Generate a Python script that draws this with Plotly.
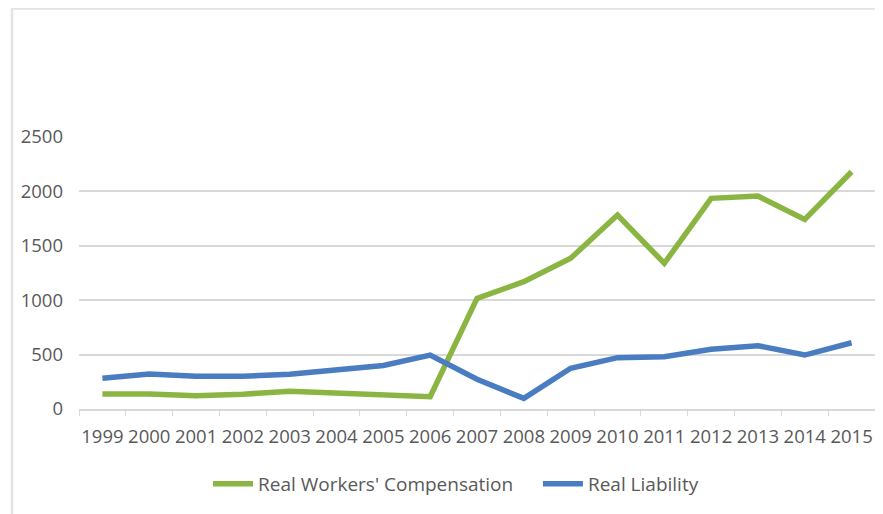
import plotly.graph_objects as go

years = [str(y) for y in range(1999, 2016)]
workers_comp = [138, 138, 122, 136, 163, 147, 128, 113, 1017, 1170, 1385, 1783, 1339, 1936, 1957, 1743, 2181]
liability = [282, 322, 300, 300, 320, 362, 400, 496, 273, 98, 374, 472, 481, 549, 582, 496, 609]

GREEN = "#8BB543"
BLUE = "#4A7CC2"
TEXT = "#595959"
FONT = "Open Sans"

fig = go.Figure()
fig.add_trace(go.Scatter(x=years, y=workers_comp, mode="lines",
                         name="Real Workers' Compensation\u00a0\u00a0\u00a0\u00a0",
                         line=dict(color=GREEN, width=5.5)))
fig.add_trace(go.Scatter(x=years, y=liability, mode="lines", name="Real Liability",
                         line=dict(color=BLUE, width=5.5)))

# page body has an 8px margin: figure coords = screen coords - 8
OFF = 8
W, H = 883 - OFF, 514 - OFF
L = 79 - OFF
T = 137 - OFF
R = W - (875 - OFF)
B = H - (409 - OFF)
pw, ph = W - L - R, H - T - B

def sx(px):  # screen px -> paper x
    return (px - OFF - L) / pw

def sy(py):  # screen px -> paper y
    return (H - B - (py - OFF)) / ph

fig.update_layout(
    width=W, height=H,
    margin=dict(l=L, r=R, t=T, b=B),
    paper_bgcolor="white", plot_bgcolor="white",
    font=dict(family=FONT, size=18.5, color=TEXT),
    showlegend=True,
    legend=dict(orientation="h", x=sx(456), xanchor="center",
                y=sy(484), yanchor="middle",
                font=dict(family=FONT, size=19, color=TEXT),
                itemwidth=40, bgcolor="rgba(0,0,0,0)"),
    xaxis=dict(type="category", range=[-0.5, len(years) - 0.5],
               showgrid=False, showline=True, linecolor="#D9D9D9", linewidth=1.5,
               ticks="outside", ticklen=5, tickcolor="#D9D9D9", tickson="boundaries",
               tickangle=0, automargin=False,
               tickfont=dict(family=FONT, size=18.5, color=TEXT), ticklabelstandoff=10,
               fixedrange=True),
    yaxis=dict(range=[0, 2500], tickvals=[0, 500, 1000, 1500, 2000, 2500],
               showgrid=True, gridcolor="#D9D9D9", gridwidth=1.5, zeroline=False,
               showline=False, ticks="", ticklabelstandoff=15, automargin=False,
               tickfont=dict(family=FONT, size=18.5, color=TEXT)),
    shapes=[
        dict(type="line", xref="paper", yref="paper",
             x0=sx(12), x1=sx(12), y0=sy(8.5), y1=sy(514),
             line=dict(color="#E3E3E3", width=2.5)),
        dict(type="line", xref="paper", yref="paper",
             x0=sx(11), x1=sx(883), y0=sy(8.5), y1=sy(8.5),
             line=dict(color="#E3E3E3", width=2.5)),
    ],
)

fig.write_html("out.html")
